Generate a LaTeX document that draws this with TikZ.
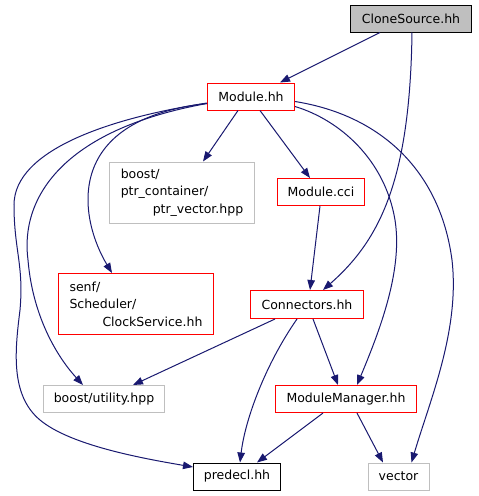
\documentclass[tikz,border=0pt]{standalone}
\usepackage{fontspec}
\setmainfont{DejaVu Sans}
\usetikzlibrary{arrows.meta}
\definecolor{edgec}{HTML}{191970}
\definecolor{redc}{HTML}{FF0000}
\definecolor{grayc}{HTML}{BFBFBF}
\begin{document}
\begin{tikzpicture}[x=1pt,y=-1pt,
 box/.style={draw, rectangle, inner sep=0pt, line width=1pt, font=\fontsize{12.5}{17.5}\selectfont, text=black},
 redbox/.style={box, draw=redc},
 graybox/.style={box, draw=grayc},
 blackbox/.style={box, draw=black},
 dep/.style={draw=edgec, line width=1pt, -{Triangle[length=10pt,width=7.5pt]}},
]
\useasboundingbox[fill=white] (0,0) rectangle (479,496);

\node[box, fill=grayc, draw=black, minimum width=121, minimum height=27] (clone) at (411,18.5) {CloneSource.hh};
\node[redbox, minimum width=87, minimum height=27] (module) at (251,96.5) {Module.hh};
\node[graybox, minimum width=145, minimum height=61, align=left] (ptrvec) at (182,192.5) {boost/\\ptr\_container/\\\hspace*{32pt}ptr\_vector.hpp};
\node[redbox, minimum width=87, minimum height=27] (cci) at (321,192) {Module.cci};
\node[redbox, minimum width=155, minimum height=61, align=left] (clock) at (136,304) {senf/\\Scheduler/\\\hspace*{33pt}ClockService.hh};
\node[redbox, minimum width=113, minimum height=28] (conn) at (307,304.5) {Connectors.hh};
\node[graybox, minimum width=121, minimum height=27] (butil) at (104,399) {boost/utility.hpp};
\node[redbox, minimum width=141, minimum height=27] (manager) at (346,399) {ModuleManager.hh};
\node[blackbox, minimum width=87, minimum height=27] (predecl) at (237,476.5) {predecl.hh};
\node[graybox, minimum width=61, minimum height=27] (vector) at (398.5,476.5) {vector};

% CloneSource.hh
\draw[dep] ([xshift=-31pt]clone.south) -- ([xshift=29pt]module.north);
\draw[dep] ([xshift=1pt]clone.south) .. controls (410,180) and (380,240) .. ([xshift=16pt]conn.north);
% Module.hh
\draw[dep] ([xshift=-13pt]module.south) -- ([xshift=21pt]ptrvec.north);
\draw[dep] ([xshift=9pt]module.south) -- ([xshift=-11pt]cci.north);
\draw[dep] ([yshift=-7pt]module.west) .. controls (60,120) and (80,220) .. ([xshift=-24pt]clock.north);
\draw[dep] ([yshift=-7pt]module.west) .. controls (60,130) and (20,200) .. (28,260)
   .. controls (33,320) and (60,360) .. ([xshift=-21pt]butil.north);
\draw[dep] ([yshift=-6.5pt]module.west) .. controls (110,118) and (14,150) .. (14,205)
   .. controls (14,250) and (24,265) .. (20,310)
   .. controls (15,350) and (10,395) .. (40,420)
   .. controls (70,445) and (140,458) .. ([yshift=9.5pt]predecl.west);
\draw[dep] ([yshift=-10pt]module.east) .. controls (340,120) and (385,160) .. (395,220)
   .. controls (403,270) and (380,330) .. ([xshift=11pt]manager.north);
\draw[dep] ([yshift=-5pt]module.east) .. controls (380,115) and (440,170) .. (452,260)
   .. controls (460,330) and (430,400) .. ([xshift=13pt]vector.north);
% Module.cci
\draw[dep] ([xshift=-1pt]cci.south) -- ([xshift=3pt]conn.north);
% Connectors.hh
\draw[dep] ([xshift=-32pt]conn.south) -- ([xshift=29pt]butil.north);
\draw[dep] ([xshift=-10pt]conn.south) .. controls (265,365) and (245,420) .. ([xshift=3pt]predecl.north);
\draw[dep] ([xshift=6pt]conn.south) -- ([xshift=-8pt]manager.north);
% ModuleManager.hh
\draw[dep] ([xshift=-23pt]manager.south) -- ([xshift=20pt]predecl.north);
\draw[dep] ([xshift=11pt]manager.south) -- ([xshift=-15.5pt]vector.north);
\end{tikzpicture}
\end{document}
